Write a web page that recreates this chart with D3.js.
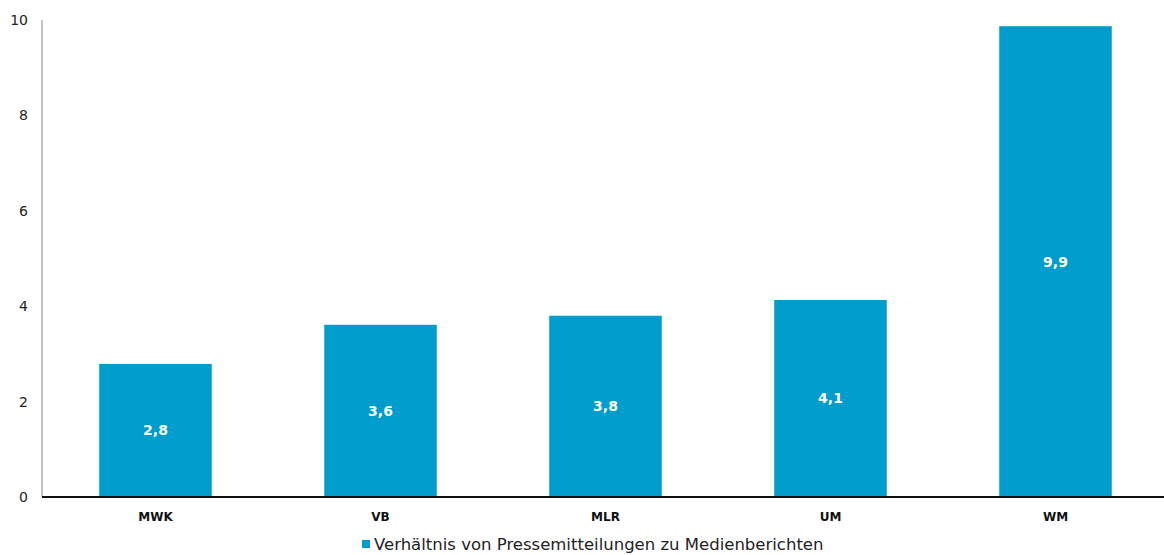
<!DOCTYPE html>
<html>
<head>
<meta charset="utf-8">
<script src="https://cdn.jsdelivr.net/npm/d3@7"></script>
<style>
  body { margin: 0; background: #fff; }
  svg { font-family: "DejaVu Sans", Verdana, sans-serif; }
</style>
</head>
<body>
<div id="chart"></div>
<script>
// data
var categories = ["MWK", "VB", "MLR", "UM", "WM"];
var values = [2.79, 3.61, 3.8, 4.13, 9.87];
var yTicks = [0, 2, 4, 6, 8, 10];
var seriesName = "Verhältnis von Pressemitteilungen zu Medienberichten";

var width = 1164;
var height = 555;
var barColor = "#009ccc";

var svg = d3.select("#chart")
    .append("svg")
    .attr("width", width)
    .attr("height", height);

var x = d3.scaleBand()
    .domain(categories)
    .range([43, 1168])
    .paddingInner(0.5)
    .paddingOuter(0.25);

var y = d3.scaleLinear()
    .domain([0, 10])
    .range([497, 20]);

// y axis line + tick labels
svg.append("line")
    .attr("x1", 42).attr("x2", 42)
    .attr("y1", y(10)).attr("y2", y(0))
    .attr("stroke", "#888")
    .attr("stroke-width", 1);

svg.selectAll(".ytick")
    .data(yTicks)
    .enter()
    .append("text")
    .attr("class", "ytick")
    .attr("x", 28)
    .attr("y", d => y(d))
    .attr("dy", "0.35em")
    .attr("text-anchor", "end")
    .attr("font-size", 14)
    .attr("fill", "#222")
    .text(d => d);

// bars
svg.selectAll(".bar")
    .data(values)
    .enter()
    .append("rect")
    .attr("class", "bar")
    .attr("x", (d, i) => x(categories[i]))
    .attr("y", d => y(d))
    .attr("width", x.bandwidth())
    .attr("height", d => y(0) - y(d))
    .attr("fill", barColor);

// value labels
var fmt = d3.formatLocale({decimal: ",", thousands: ".", grouping: [3], currency: ["", "€"]}).format(".1f");
svg.selectAll(".val")
    .data(values)
    .enter()
    .append("text")
    .attr("class", "val")
    .attr("x", (d, i) => x(categories[i]) + x.bandwidth() / 2)
    .attr("y", d => (y(d) + y(0)) / 2)
    .attr("dy", "0.35em")
    .attr("text-anchor", "middle")
    .attr("font-size", 14)
    .attr("font-weight", "bold")
    .attr("fill", "#fff")
    .text(d => fmt(d));

// baseline
svg.append("line")
    .attr("x1", 42).attr("x2", 1164)
    .attr("y1", y(0)).attr("y2", y(0))
    .attr("stroke", "#111")
    .attr("stroke-width", 2);

// category labels
svg.selectAll(".cat")
    .data(categories)
    .enter()
    .append("text")
    .attr("class", "cat")
    .attr("x", d => x(d) + x.bandwidth() / 2)
    .attr("y", 517)
    .attr("dy", "0.35em")
    .attr("text-anchor", "middle")
    .attr("font-size", 12)
    .attr("font-weight", "bold")
    .attr("fill", "#111")
    .text(d => d);

// legend
var legend = svg.append("g").attr("transform", "translate(362,544)");
legend.append("rect")
    .attr("x", 0).attr("y", -4)
    .attr("width", 8).attr("height", 8)
    .attr("fill", barColor);
legend.append("text")
    .attr("x", 12)
    .attr("y", 0)
    .attr("dy", "0.35em")
    .attr("font-size", 16.5)
    .attr("fill", "#222")
    .text(seriesName);
</script>
</body>
</html>
